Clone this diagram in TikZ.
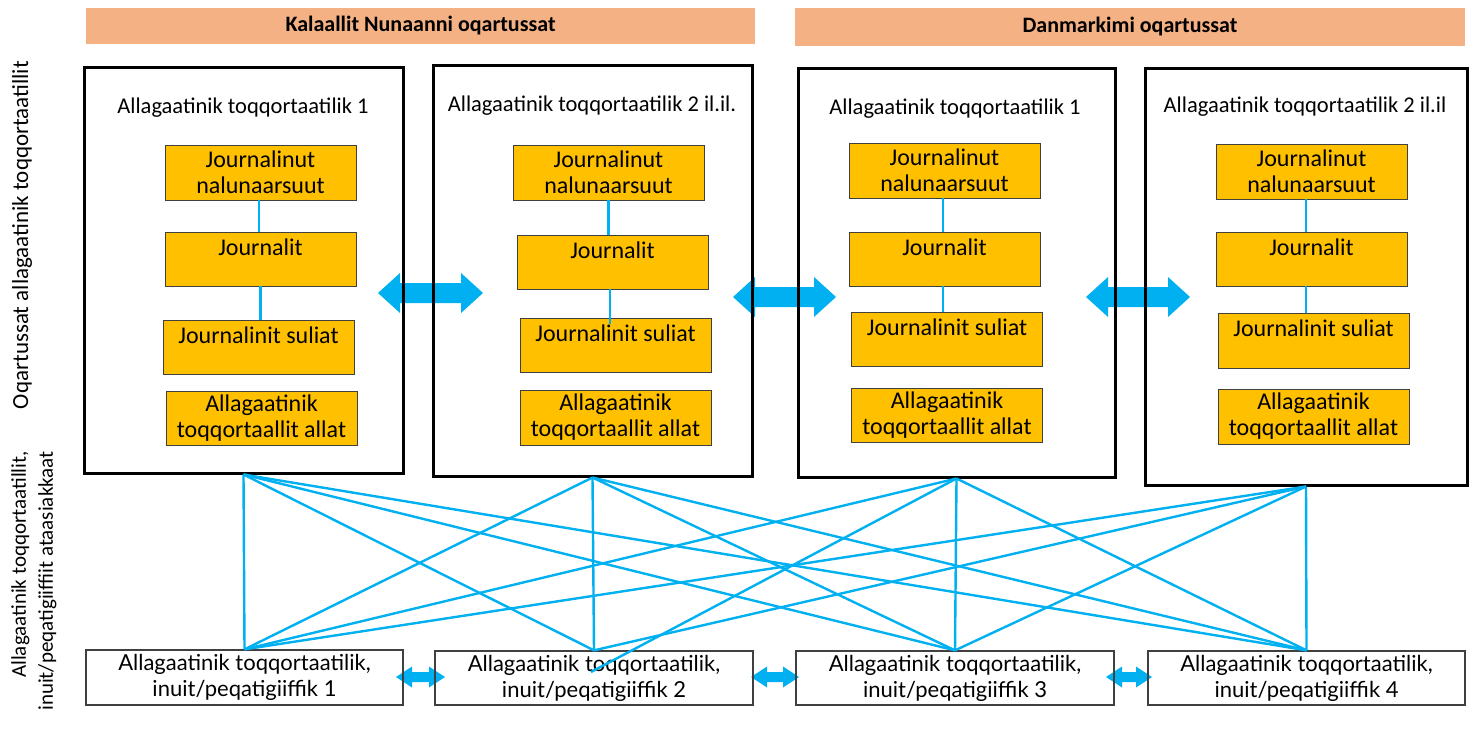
\documentclass[tikz,border=0pt]{standalone}
\usepackage{fontspec}
\setmainfont{Carlito}
\newfontfamily\aptos{Lato}
\usetikzlibrary{calc}
\definecolor{hdr}{HTML}{F4B183}
\definecolor{ylw}{HTML}{FFC000}
\definecolor{cyanb}{HTML}{00B0F0}
\newcommand\dblarrow[6]{%
  \fill[cyanb] (#1,#3) -- (#1+#6,#3-#5) -- (#1+#6,#3-#4) -- (#2-#6,#3-#4) -- (#2-#6,#3-#5) -- (#2,#3)
    -- (#2-#6,#3+#5) -- (#2-#6,#3+#4) -- (#1+#6,#3+#4) -- (#1+#6,#3+#5) -- cycle;}
\tikzset{
  hdrbox/.style={fill=hdr, inner sep=0pt, font=\fontsize{22}{26}\selectfont\bfseries},
  bigbox/.style={draw=black, line width=3pt, inner sep=0pt},
  ybox/.style={draw=black!75, fill=ylw, line width=0.9pt, minimum width=191pt, minimum height=55pt, inner sep=0pt, align=center, font=\fontsize{24}{26}\selectfont},
  toplab/.style={anchor=north, inner sep=0pt, yshift=-7pt, font=\fontsize{24}{26}\selectfont},
  botbox/.style={draw=black!75, line width=1.3pt, minimum width=317pt, minimum height=55pt, inner sep=0pt, align=center, font=\aptos\fontsize{22}{26}\selectfont},
  sidelab/.style={rotate=90, inner sep=0pt, font=\fontsize{23}{27}\selectfont},
  conn/.style={draw=cyanb, line width=2.4pt},
  inconn/.style={draw=cyanb, line width=2.2pt},
}
\begin{document}
\begin{tikzpicture}[x=1pt,y=-1pt,font=\fontsize{22.5}{26}\selectfont]
\useasboundingbox (0,0) rectangle (1475,729);
% headers
\node[hdrbox, minimum width=669pt, minimum height=36pt] (h1) at (420.5,26) {Kalaallit Nunaanni oqartussat};
\node[hdrbox, minimum width=670pt, minimum height=38pt] (h2) at (1130,27) {Danmarkimi oqartussat};
% side labels
\node[sidelab] (l1) at (22,235) {Oqartussat allagaatinik toqqortaatillit};
\node[sidelab, align=right, anchor=east, font=\fontsize{21}{27}\selectfont] (l2) at (34,451) {Allagaatinik toqqortaatillit,\\inuit/peqatigiiffiit ataasiakkaat};
% big arrows (behind boxes)
\dblarrow{378}{483}{293}{10}{20}{22}
\dblarrow{733}{836}{297}{10}{20}{22}
\dblarrow{1086}{1190}{297}{10}{20}{22}
% top boxes
\node[bigbox, minimum width=319pt, minimum height=406pt] (T1) at (243.5,270) {};
\node[bigbox, minimum width=319pt, minimum height=411pt] (T2) at (592.5,270.5) {};
\node[bigbox, minimum width=317pt, minimum height=409pt] (T3) at (956.5,272.5) {};
\node[bigbox, minimum width=322pt, minimum height=417pt] (T4) at (1306,276.5) {};
\node (t1) at (243,108) {Allagaatinik toqqortaatilik 1};
\node (t2) at (592,106) {Allagaatinik toqqortaatilik 2 il.il.};
\node (t3) at (955,109) {Allagaatinik toqqortaatilik 1};
\node (t4) at (1305,107) {Allagaatinik toqqortaatilik 2 il.il};
% yellow boxes
\node[ybox] (a1) at (260.5,172.5) {Journalinut\\nalunaarsuut};
\node[ybox, minimum height=54pt] (a2) at (260.5,259) {};
\node[toplab] (a2t) at (a2.north) {Journalit};
\node[ybox, minimum height=54pt] (a3) at (258.5,347) {};
\node[toplab] (a3t) at (a3.north) {Journalinit suliat};
\node[ybox, minimum height=54pt] (a4) at (261.5,418) {Allagaatinik\\toqqortaallit allat};
\node[ybox] (b1) at (608.5,172.5) {Journalinut\\nalunaarsuut};
\node[ybox, minimum height=54pt] (b2) at (612.5,262) {};
\node[toplab] (b2t) at (b2.north) {Journalit};
\node[ybox, minimum height=54pt] (b3) at (615.5,345) {};
\node[toplab] (b3t) at (b3.north) {Journalinit suliat};
\node[ybox] (b4) at (615.5,417.5) {Allagaatinik\\toqqortaallit allat};
\node[ybox] (c1) at (944.5,170.5) {Journalinut\\nalunaarsuut};
\node[ybox, minimum height=54pt] (c2) at (944.5,259) {};
\node[toplab] (c2t) at (c2.north) {Journalit};
\node[ybox, minimum height=54pt] (c3) at (947,339) {};
\node[toplab] (c3t) at (c3.north) {Journalinit suliat};
\node[ybox, minimum height=54pt] (c4) at (947,415) {Allagaatinik\\toqqortaallit allat};
\node[ybox] (d1) at (1311.5,171.5) {Journalinut\\nalunaarsuut};
\node[ybox, minimum height=54pt] (d2) at (1311.5,259) {};
\node[toplab] (d2t) at (d2.north) {Journalit};
\node[ybox] (d3) at (1313.5,340.5) {};
\node[toplab] (d3t) at (d3.north) {Journalinit suliat};
\node[ybox] (d4) at (1313.5,416.5) {Allagaatinik\\toqqortaallit allat};
% inner connectors
\draw[inconn] ([xshift=-1.5pt]a1.south) -- ([xshift=-1.5pt]a1.south |- a2.north);
\draw[inconn] (a2.south) -- (a2.south |- a3.north);
\draw[inconn] (b1.south) -- (b1.south |- b2.north);
\draw[inconn] ([xshift=-2.5pt]b2.south) -- ([xshift=-2.5pt,yshift=-6pt]b2.south |- b3.north);
\draw[inconn] ([xshift=-1.5pt]c1.south) -- ([xshift=-1.5pt]c1.south |- c2.north);
\draw[inconn] ([xshift=-1.5pt]c2.south) -- ([xshift=-1.5pt]c2.south |- c3.north);
\draw[inconn] ([xshift=-5.5pt]d1.south) -- ([xshift=-5.5pt]d1.south |- d2.north);
\draw[inconn] ([xshift=-5.5pt]d2.south) -- ([xshift=-5.5pt]d2.south |- d3.north);
% bottom arrows
\dblarrow{396}{445}{677}{5}{10.5}{16}
\dblarrow{751}{799}{677}{5}{10.5}{16}
\dblarrow{1106}{1152}{677}{5}{10.5}{16}
% bottom boxes
\node[botbox] (B1) at (244.5,677.5) {Allagaatinik toqqortaatilik,\\inuit/peqatigiiffik 1};
\node[botbox, minimum width=318pt, minimum height=54pt] (B2) at (594,678) {Allagaatinik toqqortaatilik,\\inuit/peqatigiiffik 2};
\node[botbox, minimum width=318pt, minimum height=54pt] (B3) at (955,678) {Allagaatinik toqqortaatilik,\\inuit/peqatigiiffik 3};
\node[botbox, minimum height=54pt] (B4) at (1306.5,678) {Allagaatinik toqqortaatilik,\\inuit/peqatigiiffik 4};
\coordinate (ov) at (591,672);
% cross connectors
\foreach \b in {B1,B2,B3,B4} \draw[conn] (T1.south) -- (\b.north);
\foreach \b in {B1,B2,B3,B4} \draw[conn] (T2.south) -- (\b.north);
\foreach \b in {B1,B3,B4} \draw[conn] (T3.south) -- (\b.north);
\draw[conn] (T3.south) -- (ov);
\foreach \b in {B1,B2,B3,B4} \draw[conn] (T4.south) -- (\b.north);
\end{tikzpicture}
\end{document}
